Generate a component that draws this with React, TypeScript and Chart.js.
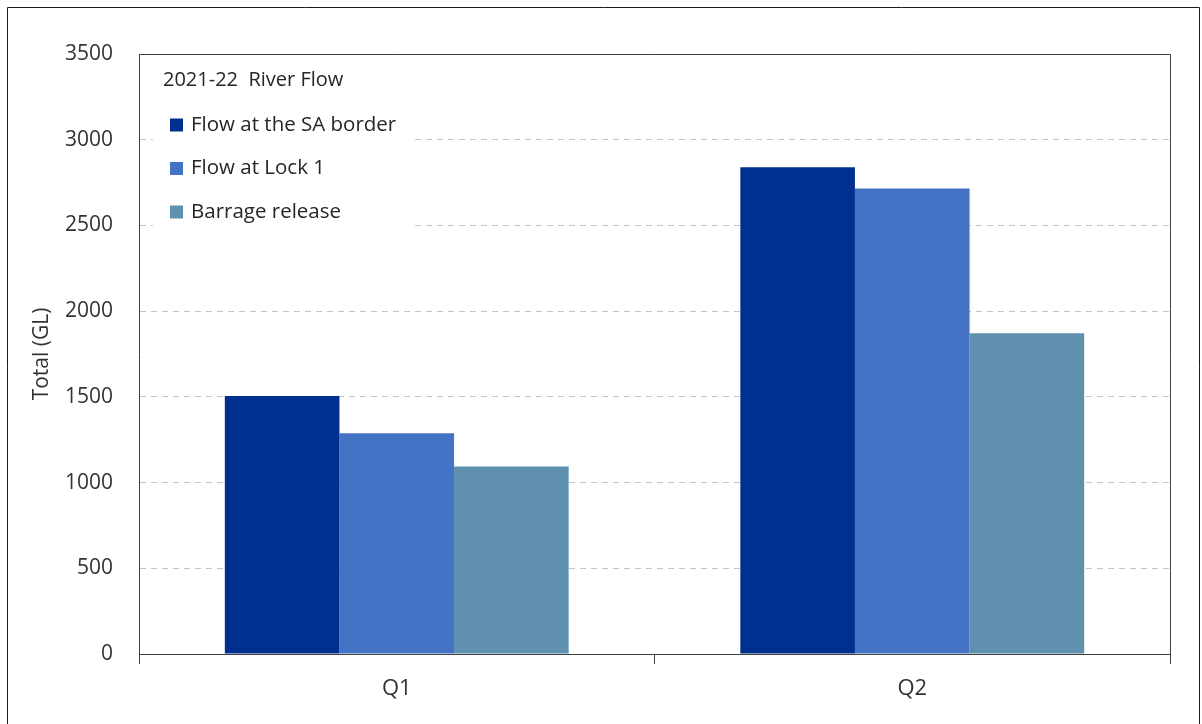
import React, { useEffect, useRef } from "react";
import { Chart, registerables } from "chart.js";

Chart.register(...registerables);

const categories = ["Q1", "Q2"];
const seriesNames = ["Flow at the SA border", "Flow at Lock 1", "Barrage release"];
const flowSABorder = [1505, 2839];
const flowLock1 = [1288, 2716];
const barrageRelease = [1094, 1871];
const seriesColors = ["#00308F", "#4472C4", "#5F91AF"];
const legendTitle = "2021-22  River Flow";
const yAxisTitle = "Total (GL)";
const yMin = 0;
const yMax = 3500;
const yStep = 500;

const FONT = "'Open Sans', 'Noto Sans', sans-serif";
const TEXT = "#333333";

const legendPlugin = {
  id: "insideLegend",
  afterDatasetsDraw(chart: any) {
    const ctx = chart.ctx;
    ctx.save();
    ctx.fillStyle = "#ffffff";
    ctx.fillRect(153, 58, 257, 178);
    ctx.fillStyle = "#262626";
    ctx.textBaseline = "middle";
    ctx.textAlign = "left";
    ctx.font = `20px ${FONT}`;
    ctx.fillText(legendTitle, 163, 80);
    ctx.font = `20.5px ${FONT}`;
    const rows = [125, 168.5, 212];
    chart.data.datasets.forEach((ds: any, i: number) => {
      const y = rows[i];
      ctx.fillStyle = ds.backgroundColor;
      ctx.fillRect(170, y - 6.5, 13, 13);
      ctx.fillStyle = "#262626";
      ctx.fillText(ds.label, 191, y);
    });
    ctx.restore();
  },
  afterDraw(chart: any) {
    const ctx = chart.ctx;
    const a = chart.chartArea;
    ctx.save();
    ctx.strokeStyle = "#404040";
    ctx.lineWidth = 1;
    ctx.beginPath();
    ctx.moveTo(a.left, a.top + 0.5);
    ctx.lineTo(a.right + 0.5, a.top + 0.5);
    ctx.lineTo(a.right + 0.5, a.bottom);
    ctx.stroke();
    ctx.strokeStyle = "#1a1a1a";
    ctx.beginPath();
    ctx.moveTo(7.5, 730);
    ctx.lineTo(7.5, 7.5);
    ctx.lineTo(1199.5, 7.5);
    ctx.lineTo(1199.5, 730);
    ctx.stroke();
    ctx.restore();
  },
};

export default function App() {
  const ref = useRef<HTMLCanvasElement>(null);
  useEffect(() => {
    if (!ref.current) return;
    const chart = new Chart(ref.current, {
      type: "bar",
      data: {
        labels: categories,
        datasets: [
          { label: seriesNames[0], data: flowSABorder, backgroundColor: seriesColors[0] },
          { label: seriesNames[1], data: flowLock1, backgroundColor: seriesColors[1] },
          { label: seriesNames[2], data: barrageRelease, backgroundColor: seriesColors[2] },
        ],
      },
      options: {
        responsive: false,
        animation: false,
        devicePixelRatio: 1,
        layout: { padding: { left: 0, right: 32, top: 54, bottom: 0 } },
        datasets: { bar: { categoryPercentage: 0.667, barPercentage: 1.0 } },
        plugins: { legend: { display: false }, tooltip: { enabled: false } },
        scales: {
          x: {
            offset: true,
            grid: {
              display: true,
              offset: true,
              drawOnChartArea: false,
              drawTicks: true,
              tickLength: 10,
              color: "#404040",
            },
            border: { display: true, color: "#404040", width: 1 },
            ticks: { font: { family: FONT, size: 22 }, color: TEXT, padding: 12 },
            afterFit: (s: any) => {
              s.height = 70;
            },
          },
          y: {
            min: yMin,
            max: yMax,
            ticks: {
              stepSize: yStep,
              font: { family: FONT, size: 21 },
              color: TEXT,
              padding: 26,
              callback: (v: any) => String(v),
            },
            grid: { color: "#c4c4c4", drawTicks: false, lineWidth: 1 },
            border: { display: true, color: "#404040", width: 1, dash: [6, 5] },
            title: {
              display: true,
              text: yAxisTitle,
              font: { family: FONT, size: 21 },
              color: TEXT,
              padding: { top: 29, bottom: 0 },
            },
            afterFit: (s: any) => {
              s.width = 139;
            },
          },
        },
      },
      plugins: [legendPlugin],
    });
    return () => chart.destroy();
  }, []);
  return (
    <div style={{ position: "absolute", left: 0, top: 0, width: 1202, height: 724, background: "#fff" }}>
      <canvas ref={ref} width={1202} height={724} style={{ display: "block" }} />
    </div>
  );
}
